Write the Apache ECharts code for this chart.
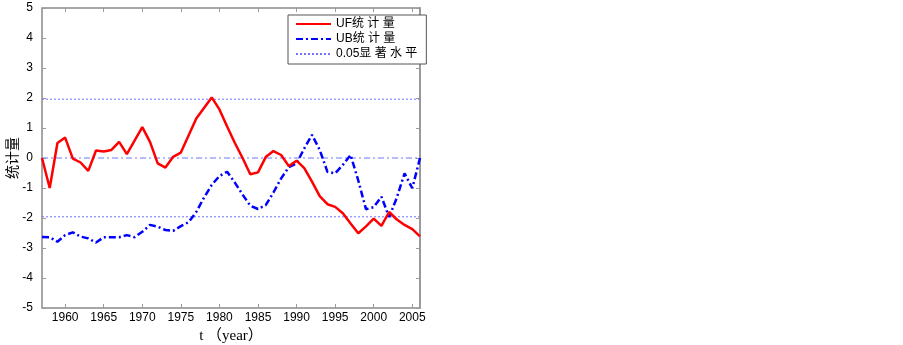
<!DOCTYPE html>
<html><head><meta charset="utf-8">
<script src="https://cdn.jsdelivr.net/npm/echarts@6/dist/echarts.min.js"></script>
<style>html,body{margin:0;padding:0;background:#fff}#c{width:903px;height:345px}</style>
</head><body><div id="c"></div>
<script>
var years = [];
for (var y = 1957; y <= 2006; y++) years.push(y);
var uf = [0.0,-1.0,0.5,0.68,-0.02,-0.15,-0.43,0.25,0.22,0.27,
          0.54,0.13,0.58,1.03,0.54,-0.18,-0.32,0.04,0.18,0.75,
          1.32,1.67,2.02,1.62,1.05,0.5,0.0,-0.54,-0.48,0.03,
          0.23,0.1,-0.27,-0.09,-0.34,-0.79,-1.27,-1.54,-1.63,-1.84,
          -2.18,-2.51,-2.28,-2.02,-2.26,-1.8,-2.05,-2.23,-2.37,-2.61];
var ub = [-2.63,-2.64,-2.79,-2.57,-2.48,-2.62,-2.68,-2.82,-2.64,-2.64,
          -2.64,-2.57,-2.64,-2.46,-2.23,-2.29,-2.4,-2.43,-2.27,-2.14,
          -1.8,-1.32,-0.9,-0.6,-0.46,-0.82,-1.22,-1.59,-1.7,-1.57,
          -1.15,-0.68,-0.3,-0.18,0.32,0.77,0.27,-0.46,-0.51,-0.23,
          0.1,-0.75,-1.71,-1.64,-1.29,-1.97,-1.32,-0.51,-1.01,0.0];
var xTicks = [1960,1965,1970,1975,1980,1985,1990,1995,2000,2005];
var sigLevel = [1.96,-1.96];
var zeroLevel = [0];
var seriesNames = ['UF统 计 量','UB统 计 量','0.05显 著 水 平'];

var xMin = years[0], xMax = years[years.length-1];
var ufData = years.map(function(y,i){return [y,uf[i]];});
var ubData = years.map(function(y,i){return [y,ub[i]];});

var frameColor = '#9a9a9a';
var sigColor = '#7373ff';
var zeroColor = '#6b7bff';

var hSeries = function(name, v, color, type, showInLegend){
  return {
    name:name, type:'line', silent:true, symbol:'none', z:2,
    data:[[xMin,v],[xMax,v]],
    lineStyle:{color:color,width:1,type:type},
    itemStyle:{color:color}
  };
};

var chart = echarts.init(document.getElementById('c'));
chart.setOption({
  animation:false,
  backgroundColor:'#fff',
  grid:{left:42,top:8,width:378,height:300,show:true,borderColor:frameColor,borderWidth:1,backgroundColor:'transparent',outerBoundsMode:'none',containLabel:false},
  legend:{
    data:seriesNames,
    orient:'vertical',left:288,top:15,
    width:129,
    backgroundColor:'#fff',
    borderColor:'#555',borderWidth:1,
    padding:[3,9,4,7],
    itemWidth:35,itemHeight:14,itemGap:3,
    itemStyle:{opacity:0},
    textStyle:{fontFamily:'Liberation Sans, Noto Sans CJK SC',fontSize:12,color:'#000'}
  },
  xAxis:[{
    type:'value',min:xMin,max:xMax,
    name:'t （year）',nameLocation:'middle',nameGap:16,
    nameTextStyle:{fontFamily:'Liberation Serif, Noto Sans CJK SC',fontSize:15,color:'#000'},
    axisLine:{show:true,onZero:false,lineStyle:{color:frameColor,width:1.5}},
    axisTick:{show:true,inside:true,length:4,customValues:xTicks,lineStyle:{color:frameColor}},
    axisLabel:{customValues:xTicks,formatter:function(v){return String(v);},color:'#000',fontFamily:'Liberation Sans',fontSize:12,margin:4},
    splitLine:{show:false}
  },{
    type:'value',min:xMin,max:xMax,position:'top',
    axisLine:{show:true,onZero:false,lineStyle:{color:frameColor,width:1.5}},
    axisTick:{show:true,inside:true,length:4,customValues:xTicks,lineStyle:{color:frameColor}},
    axisLabel:{show:false},splitLine:{show:false}
  }],
  yAxis:[{
    type:'value',min:-5,max:5,interval:1,
    name:'统计量',nameLocation:'middle',nameGap:17,nameRotate:90,
    nameTextStyle:{fontFamily:'Noto Sans CJK SC',fontSize:14,color:'#000'},
    axisLine:{show:true,onZero:false,lineStyle:{color:frameColor,width:1.5}},
    axisTick:{show:true,inside:true,length:4,lineStyle:{color:frameColor}},
    axisLabel:{color:'#000',fontFamily:'Liberation Sans',fontSize:12,margin:9},
    splitLine:{show:false}
  },{
    type:'value',min:-5,max:5,interval:1,position:'right',
    axisLine:{show:true,onZero:false,lineStyle:{color:frameColor,width:2}},
    axisTick:{show:true,inside:true,length:4,lineStyle:{color:frameColor}},
    axisLabel:{show:false},splitLine:{show:false}
  }],
  series:[
    hSeries('zero', zeroLevel[0], zeroColor, [6,3,2,3]),
    hSeries(seriesNames[2], sigLevel[0], sigColor, [2,2]),
    hSeries(seriesNames[2], sigLevel[1], sigColor, [2,2]),
    {
      name:seriesNames[0],type:'line',data:ufData,symbol:'none',
      lineStyle:{color:'#ff0000',width:2.5},itemStyle:{color:'#ff0000'},z:4
    },
    {
      name:seriesNames[1],type:'line',data:ubData,symbol:'none',
      lineStyle:{color:'#0000ff',width:2.5,type:[7,3,2,3]},itemStyle:{color:'#0000ff'},z:3
    }
  ]
});
</script></body></html>
